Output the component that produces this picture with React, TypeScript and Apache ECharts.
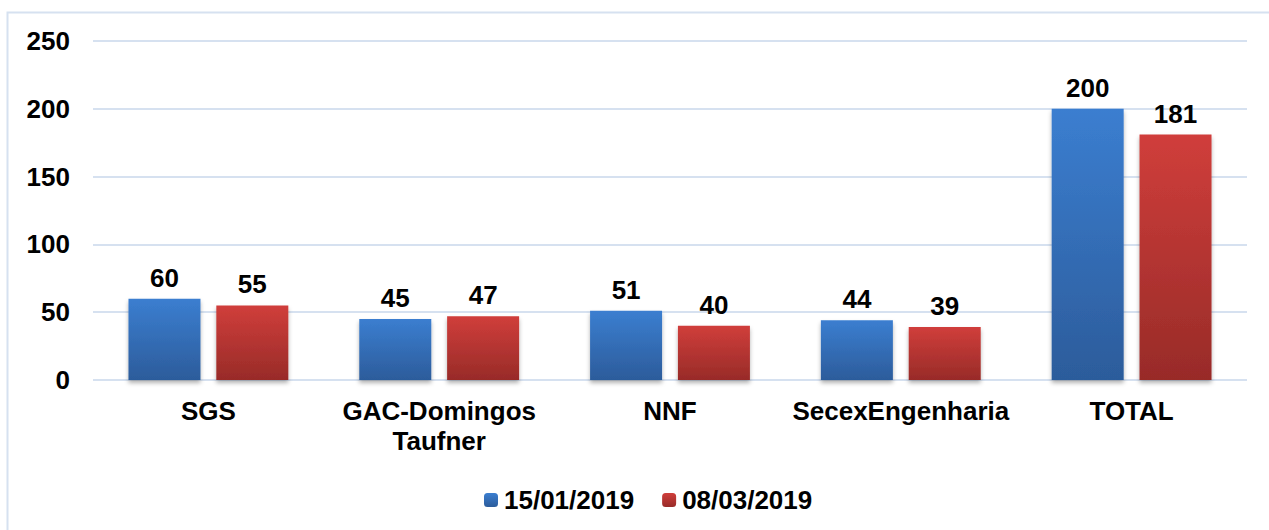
import React, { useEffect, useRef } from "react";
import * as echarts from "echarts";

const categories = ["SGS", "GAC-Domingos\nTaufner", "NNF", "SecexEngenharia", "TOTAL"];
const seriesNames = ["15/01/2019", "08/03/2019"];
const valuesJan = [60, 45, 51, 44, 200];
const valuesMar = [55, 47, 40, 39, 181];

const FONT = "'Liberation Sans', Arial, sans-serif";

export default function App() {
  const ref = useRef<HTMLDivElement>(null);
  useEffect(() => {
    if (!ref.current) return;
    const chart = echarts.init(ref.current, null, { renderer: "svg" });
    const grad = (top: string, bottom: string) =>
      new echarts.graphic.LinearGradient(0, 0, 0, 1, [
        { offset: 0, color: top },
        { offset: 1, color: bottom },
      ]);
    const blue = grad("#3B7ED0", "#2C5C9B");
    const red = grad("#D03E3B", "#982B28");
    const labelStyle = {
      show: true,
      position: "top" as const,
      distance: 8,
      fontFamily: FONT,
      fontWeight: "bold" as const,
      fontSize: 26,
      color: "#000",
    };
    chart.setOption({
      animation: false,
      backgroundColor: "#fff",
      graphic: [
        {
          type: "polyline",
          shape: { points: [[7.5, 540], [7.5, 12.5], [1280, 12.5]] },
          style: { stroke: "#D6E1F0", lineWidth: 2, fill: "none" },
          silent: true,
        },
      ],
      grid: { left: 93, right: 22, top: 41, bottom: 150, containLabel: false },
      legend: {
        data: seriesNames,
        left: 479,
        top: 482,
        itemWidth: 14,
        itemHeight: 14,
        itemGap: 28,
        textStyle: { fontFamily: FONT, fontWeight: "bold", fontSize: 26, color: "#000", padding: [0, 0, 0, 1] },
      },
      xAxis: {
        type: "category",
        data: categories,
        axisLine: { show: false },
        axisTick: { show: false },
        axisLabel: {
          fontFamily: FONT,
          fontWeight: "bold",
          fontSize: 26,
          color: "#000",
          margin: 16,
          lineHeight: 30,
          interval: 0,
        },
      },
      yAxis: {
        type: "value",
        min: 0,
        max: 250,
        interval: 50,
        axisLine: { show: false },
        axisTick: { show: false },
        splitLine: { lineStyle: { color: "#D6E1F0", width: 2 } },
        axisLabel: {
          fontFamily: FONT,
          fontWeight: "bold",
          fontSize: 26,
          color: "#000",
          margin: 23,
        },
      },
      series: [
        {
          name: seriesNames[0],
          type: "bar",
          data: valuesJan,
          barWidth: 72,
          barGap: "22%",
          itemStyle: { color: blue, shadowColor: "rgba(0,0,0,0.3)", shadowBlur: 4, shadowOffsetY: 3 },
          label: labelStyle,
        },
        {
          name: seriesNames[1],
          type: "bar",
          data: valuesMar,
          barWidth: 72,
          barGap: "22%",
          itemStyle: { color: red, shadowColor: "rgba(0,0,0,0.3)", shadowBlur: 4, shadowOffsetY: 3 },
          label: labelStyle,
        },
      ],
    });
    return () => chart.dispose();
  }, []);
  return (
    <div
      ref={ref}
      style={{ position: "fixed", left: 0, top: 0, width: 1269, height: 530 }}
    />
  );
}
